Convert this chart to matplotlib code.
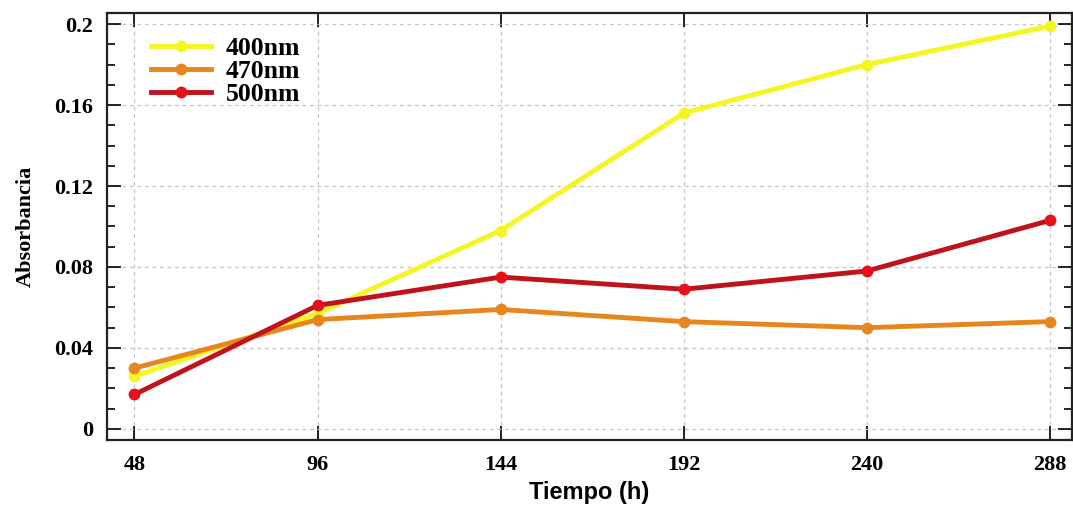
import matplotlib.pyplot as plt
from matplotlib.ticker import MultipleLocator

# tiempo en horas
tiempo = [48, 96, 144, 192, 240, 288]

abs400 = [0.026, 0.057, 0.098, 0.156, 0.180, 0.199]
abs470 = [0.030, 0.054, 0.059, 0.053, 0.050, 0.053]
abs500 = [0.017, 0.061, 0.075, 0.069, 0.078, 0.103]

etiquetas = ['400nm', '470nm', '500nm']
yticks = [0, 0.04, 0.08, 0.12, 0.16, 0.2]
ytick_labels = ['0', '0.04', '0.08', '0.12', '0.16', '0.2']


def main():
    fig = plt.figure(figsize=(10.73, 5.07), dpi=100)
    ax = fig.add_axes([107 / 1073, 67 / 507, 965 / 1073, 427 / 507])

    serif = {'family': 'Liberation Serif', 'weight': 'bold'}

    ax.plot(tiempo, abs400, color='#f5f523', lw=3.5, marker='o', ms=7.5, label=etiquetas[0])
    ax.plot(tiempo, abs470, color='#e8861e', lw=3.5, marker='o', ms=7.5, label=etiquetas[1])
    ax.plot(tiempo, abs500, color='#c0121a', lw=3.5, marker='o', ms=7.5,
            mfc='#e8101a', mec='#e8101a', label=etiquetas[2])

    ax.set_xlim(40.8, 293.8)
    ax.set_ylim(-0.0055, 0.2055)
    ax.set_xticks(tiempo)
    ax.set_xticklabels([str(t) for t in tiempo], fontdict=serif, fontsize=16)
    ax.set_yticks(yticks)
    ax.set_yticklabels(ytick_labels, fontdict=serif, fontsize=16)
    ax.yaxis.set_minor_locator(MultipleLocator(0.01))

    ax.tick_params(axis='both', which='major', direction='in', length=10, width=1.2,
                   top=True, right=True, pad=10)
    ax.tick_params(axis='y', which='minor', direction='in', length=6, width=1.2, right=True)
    ax.tick_params(axis='x', which='major', pad=11)

    for s in ax.spines.values():
        s.set_linewidth(1.6)
        s.set_color('#222222')

    ax.grid(True, which='major', ls=(0, (3, 3)), color='#c4c4c4', lw=0.9)

    ax.set_xlabel('Tiempo (h)', family='Liberation Sans', weight='bold', fontsize=17, labelpad=4)
    ax.set_ylabel('Absorbancia', fontdict=serif, fontsize=16, labelpad=13)

    ax.legend(loc='upper left', frameon=False,
              prop={'family': 'Liberation Serif', 'weight': 'bold', 'size': 18.5},
              handlelength=2.35, handletextpad=0.55, labelspacing=0.0,
              borderaxespad=0.0, bbox_to_anchor=(0.035, 0.968))

    fig.savefig('out.png', dpi=100)
    plt.close('all')


if __name__ == "__main__":
    main()
